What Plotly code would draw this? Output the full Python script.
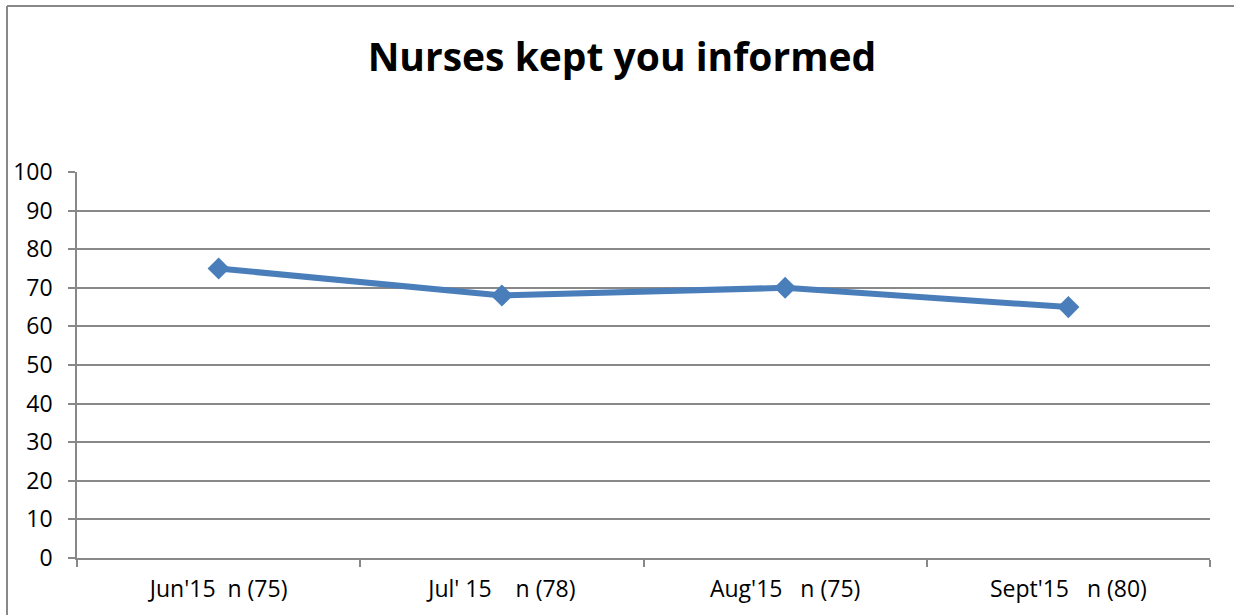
import plotly.graph_objects as go

categories = ["Jun'15\u00a0\u00a0n (75)", "Jul'\u00a015\u00a0\u00a0\u00a0\u00a0n (78)",
              "Aug'15\u00a0\u00a0\u00a0n (75)", "Sept'15\u00a0\u00a0\u00a0n (80)"]
values = [75, 68, 70, 65]
y_ticks = list(range(0, 101, 10))

W, H = 1234, 615
L, R, T, B = 77, 24, 172, 57
pw, ph = W - L - R, H - T - B

fig = go.Figure()
fig.add_trace(go.Scatter(
    x=categories, y=values, mode="lines+markers",
    line=dict(color="#4a7ebb", width=6),
    marker=dict(symbol="diamond", size=17, color="#4a7ebb"),
    showlegend=False,
))

font = "Open Sans, Liberation Sans, sans-serif"
fig.update_layout(
    width=W, height=H,
    margin=dict(l=L, r=R, t=T, b=B, autoexpand=False),
    paper_bgcolor="white", plot_bgcolor="white",
    title=dict(text="<b>Nurses kept you informed</b>", x=0.504, xanchor="center",
               y=1 - 57 / H, yanchor="middle",
               font=dict(family=font, size=39, color="black")),
    font=dict(family=font, size=23, color="black"),
    xaxis=dict(
        type="category", range=[-0.5, 3.5], tickson="boundaries",
        ticks="outside", ticklen=7, tickcolor="#888888", tickwidth=1.5,
        showgrid=False, showline=True, linecolor="#888888", linewidth=1.5,
        tickfont=dict(family=font, size=23), fixedrange=True,
        ticklabelstandoff=10, automargin=False,
    ),
    yaxis=dict(
        range=[0, 100], tickvals=y_ticks, ticks="outside", ticklen=7,
        tickcolor="#888888", tickwidth=1.5,
        showgrid=True, gridcolor="#888888", gridwidth=1.5,
        showline=True, linecolor="#888888", linewidth=1.5,
        zeroline=False, tickfont=dict(family=font, size=23),
        ticklabelstandoff=11, fixedrange=True, automargin=False,
    ),
)

# outer chart border (left and top edges visible)
bx = (7 - L) / pw
by = (H - B - 6) / ph
fig.add_shape(type="line", xref="paper", yref="paper",
              x0=bx, y0=-1, x1=bx, y1=by, line=dict(color="#888888", width=2))
fig.add_shape(type="line", xref="paper", yref="paper",
              x0=bx, y0=by, x1=(W + 10 - L) / pw, y1=by, line=dict(color="#888888", width=2))

fig.write_html("out.html", config={"displayModeBar": False},
               post_script="document.body.style.margin='0';document.body.style.overflow='hidden';")
